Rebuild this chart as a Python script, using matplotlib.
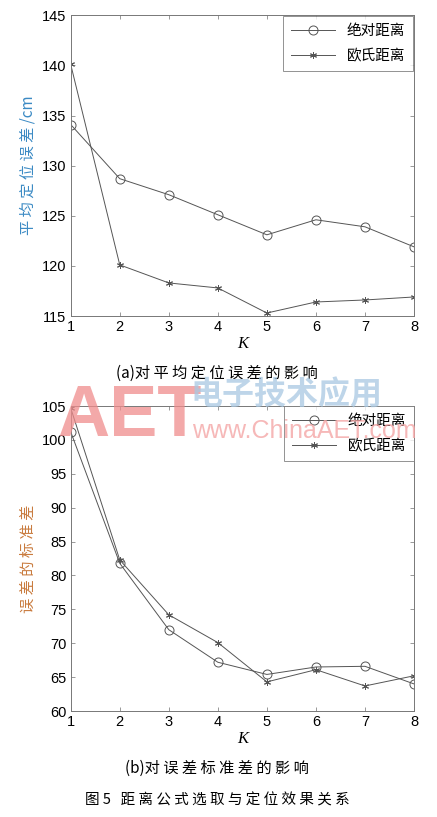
import matplotlib
matplotlib.use('Agg')
import matplotlib.pyplot as plt

plt.rcParams['font.family'] = ['Liberation Sans', 'Noto Sans CJK SC', 'DejaVu Sans']

k = [1, 2, 3, 4, 5, 6, 7, 8]

# (a) mean positioning error, cm
mean_abs = [134.1, 128.7, 127.1, 125.1, 123.1, 124.6, 123.9, 121.9]
mean_euc = [140.1, 120.1, 118.3, 117.8, 115.3, 116.4, 116.6, 116.9]

# (b) std of error
std_abs = [101.2, 81.8, 72.0, 67.2, 65.4, 66.5, 66.6, 64.0]
std_euc = [104.7, 82.3, 74.2, 70.1, 64.3, 66.1, 63.7, 65.2]

labels = ['绝对距离', '欧氏距离']
cjk = ['Noto Sans CJK SC', 'DejaVu Sans']
line_c = '#555555'

fig = plt.figure(figsize=(4.37, 8.17), dpi=100)
ax1 = fig.add_axes([0.1618, 0.6132, 0.7856, 0.3681])
ax2 = fig.add_axes([0.1618, 0.1297, 0.7856, 0.3733])


def draw(ax, a, e, ylim, yticks, ylabel, ycol, leg_anchor):
    ax.plot(k, a, color=line_c, lw=0.7, marker='o', ms=6.5, mfc='none',
            mec=line_c, mew=0.7, label=labels[0])
    ax.plot(k, e, color=line_c, lw=0.7, marker=(6, 2, 0), ms=5,
            mec=line_c, mew=0.7, label=labels[1])
    ax.set_xlim(1, 8)
    ax.set_ylim(*ylim)
    ax.set_xticks(k)
    ax.set_yticks(yticks)
    ax.tick_params(direction='in', top=True, right=True, length=3,
                   width=0.6, color='#888888', labelsize=10.5, pad=3)
    for s in ax.spines.values():
        s.set_color('#777777')
        s.set_linewidth(0.7)
    ax.set_xlabel('K', family='Liberation Serif', style='italic',
                  fontsize=12, labelpad=1)
    ax.set_ylabel(ylabel, family=cjk, color=ycol, fontsize=11, labelpad=4)
    leg = ax.legend(loc='upper right', bbox_to_anchor=leg_anchor,
                    prop={'family': cjk, 'size': 10.5}, fancybox=False,
                    edgecolor='#777777', handlelength=3.0, borderpad=0.55,
                    labelspacing=0.75, handletextpad=0.8, borderaxespad=0)
    leg.get_frame().set_linewidth(0.7)


draw(ax1, mean_abs, mean_euc, (115, 145), range(115, 146, 5),
     '平 均 定 位 误 差 /cm', '#3b8ac4', (0.997, 0.997))
draw(ax2, std_abs, std_euc, (60, 105), range(60, 106, 5),
     '误 差 的 标 准 差', '#c97b3e', (1.0, 1.0))

# watermark
fig.text(0.13, 0.466, 'AET', fontsize=52, fontweight='bold', color='#f08c8c',
         alpha=0.75, family='Liberation Sans', zorder=10)
fig.text(0.435, 0.516, '电子技术应用', fontsize=23, color='#a8c8e2',
         alpha=0.75, family=cjk, fontweight='bold', va='center', zorder=10)
fig.text(0.44, 0.464, 'www.ChinaAET.com', fontsize=18, color='#f4a6a6',
         alpha=0.8, family='Liberation Sans', zorder=10)

fig.text(0.497, 0.543, '(a)对 平 均 定 位 误 差 的 影 响', ha='center',
         va='center', fontsize=11, family=cjk)
fig.text(0.497, 0.06, '(b)对 误 差 标 准 差 的 影 响', ha='center',
         va='center', fontsize=11, family=cjk)
fig.text(0.497, 0.021, '图 5   距 离 公 式 选 取 与 定 位 效 果 关 系', ha='center',
         va='center', fontsize=10.5, family=cjk)

fig.savefig('out.png', dpi=100)
